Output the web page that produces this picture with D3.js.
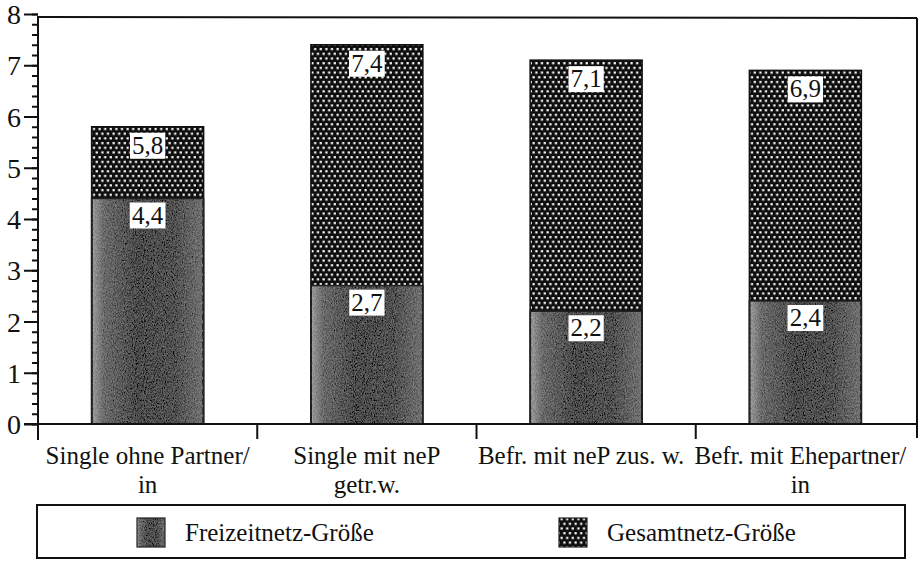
<!DOCTYPE html>
<html><head><meta charset="utf-8">
<script src="https://cdn.jsdelivr.net/npm/d3@7/dist/d3.min.js"></script>
<style>
html,body{margin:0;padding:0;background:#fff;}
svg{display:block;font-family:"Liberation Serif","Times New Roman",serif;}
svg text{font-family:"Liberation Serif","Times New Roman",serif;}
</style></head>
<body><svg id="chart" width="921" height="561"></svg>
<script>
const categories = [
  ["Single ohne Partner/", "in"],
  ["Single mit neP", "getr.w."],
  ["Befr. mit neP zus. w."],
  ["Befr. mit Ehepartner/", "in"]
];
const freizeit = [4.4, 2.7, 2.2, 2.4];
const gesamt = [5.8, 7.4, 7.1, 6.9];
const yTicks = [0, 1, 2, 3, 4, 5, 6, 7, 8];
const seriesNames = ["Freizeitnetz-Größe", "Gesamtnetz-Größe"];

(function () {
const svg = d3.select("#chart");
const pLeft = 38, pRight = 915, pBottom = 424, pTop = 14;
const y = d3.scaleLinear().domain([0, 8]).range([pBottom, pTop]);
const x = d3.scaleBand().domain(d3.range(categories.length)).range([pLeft, pRight]).paddingInner(0).paddingOuter(0);
const barW = 112;
const fmt = d3.formatLocale({decimal: ",", thousands: ".", grouping: [3], currency: ["", "€"]}).format(".1f");

const defs = svg.append("defs");
const dots = defs.append("pattern").attr("id", "dots").attr("patternUnits", "userSpaceOnUse")
  .attr("width", 5.6).attr("height", 9.4);
dots.append("rect").attr("width", 5.6).attr("height", 9.4).attr("fill", "#0e0e0e");
dots.append("rect").attr("x", 0.5).attr("y", 1.0).attr("width", 2.2).attr("height", 2.2).attr("fill", "#fff");
dots.append("rect").attr("x", 3.3).attr("y", 5.7).attr("width", 2.2).attr("height", 2.2).attr("fill", "#fff");

const g1 = defs.append("linearGradient").attr("id", "grayGrad").attr("x1", 0).attr("x2", 1).attr("y1", 0).attr("y2", 0);
[[0, "#9a9a9a"], [0.1, "#6a6a6a"], [0.4, "#4a4a4a"], [0.75, "#505050"], [1, "#707070"]]
  .forEach(([o, c]) => g1.append("stop").attr("offset", o).attr("stop-color", c));

const f = defs.append("filter").attr("id", "grain").attr("x", 0).attr("y", 0).attr("width", 1).attr("height", 1);
f.append("feTurbulence").attr("type", "fractalNoise").attr("baseFrequency", "1.1 0.6").attr("numOctaves", 2).attr("seed", 5).attr("result", "n");
f.append("feColorMatrix").attr("in", "n").attr("type", "matrix")
  .attr("values", "1 0 0 0 0  1 0 0 0 0  1 0 0 0 0  0 0 0 0 1").attr("result", "ng");
f.append("feComposite").attr("in", "SourceGraphic").attr("in2", "ng").attr("operator", "arithmetic")
  .attr("k1", 0).attr("k2", 1).attr("k3", 0.3).attr("k4", -0.15).attr("result", "mix");
f.append("feComposite").attr("in", "mix").attr("in2", "SourceGraphic").attr("operator", "in");

// frame (top and right)
svg.append("line").attr("x1", pLeft).attr("x2", pRight + 2).attr("y1", 17).attr("y2", 18)
  .attr("stroke", "#111").attr("stroke-width", 2);
svg.append("line").attr("x1", pRight + 2).attr("x2", pRight + 2).attr("y1", 18).attr("y2", 438)
  .attr("stroke", "#111").attr("stroke-width", 2);

// bars
const bars = svg.append("g");
categories.forEach((c, i) => {
  const cx = x(i) + x.bandwidth() / 2;
  bars.append("rect").attr("x", cx - barW / 2).attr("y", y(gesamt[i])).attr("width", barW)
    .attr("height", y(0) - y(gesamt[i])).attr("fill", "url(#dots)").attr("stroke", "#111").attr("stroke-width", 1.5);
  bars.append("rect").attr("x", cx - barW / 2 + 1).attr("y", y(freizeit[i])).attr("width", barW - 2)
    .attr("height", y(0) - y(freizeit[i])).attr("fill", "url(#grayGrad)").attr("filter", "url(#grain)");
  bars.append("rect").attr("x", cx - barW / 2).attr("y", y(freizeit[i])).attr("width", barW)
    .attr("height", y(0) - y(freizeit[i])).attr("fill", "none").attr("stroke", "#222").attr("stroke-width", 1.5);
});

// value labels
function label(cx, yy, v) {
  const g = svg.append("g");
  const t = g.append("text").attr("x", cx).attr("y", yy + 21).attr("text-anchor", "middle")
    .attr("font-size", 25).attr("fill", "#111").text(fmt(v));
  const bb = t.node().getBBox();
  g.insert("rect", "text").attr("x", cx - bb.width / 2 - 2).attr("y", yy).attr("width", bb.width + 4)
    .attr("height", 26).attr("fill", "#fff");
}
categories.forEach((c, i) => {
  const cx = x(i) + x.bandwidth() / 2;
  label(cx, y(gesamt[i]) + 6, gesamt[i]);
  label(cx, y(freizeit[i]) + 4, freizeit[i]);
});

// y axis
const yMinor = svg.append("g").attr("transform", `translate(${pLeft},0)`)
  .call(d3.axisLeft(y).tickValues(d3.range(0, 8.001, 0.2)).tickSize(6).tickFormat(""));
yMinor.select(".domain").remove();
yMinor.selectAll("line").attr("stroke", "#111").attr("stroke-width", 2);
const yAx = svg.append("g").attr("transform", `translate(${pLeft},0)`)
  .call(d3.axisLeft(y).tickValues(yTicks).tickSize(14).tickPadding(3).tickFormat(d3.format("d")));
yAx.attr("font-size", 28).attr("font-family", "Liberation Serif, serif");
yAx.select(".domain").remove();
yAx.selectAll("line").attr("stroke", "#111").attr("stroke-width", 2);
yAx.selectAll("text").style("font-size", "28px").attr("fill", "#111").attr("dy", "0.34em");
svg.append("line").attr("x1", pLeft).attr("x2", pLeft).attr("y1", 16).attr("y2", 440)
  .attr("stroke", "#111").attr("stroke-width", 2);

// x axis
svg.append("line").attr("x1", 24).attr("x2", pRight + 2).attr("y1", pBottom).attr("y2", pBottom)
  .attr("stroke", "#111").attr("stroke-width", 2);
const xTickPos = d3.range(1, categories.length).map(i => x(i));
svg.append("g").selectAll("line").data(xTickPos).join("line")
  .attr("x1", d => d).attr("x2", d => d).attr("y1", pBottom).attr("y2", 439)
  .attr("stroke", "#111").attr("stroke-width", 2);

const xl = svg.append("g");
categories.forEach((lines, i) => {
  const cx = x(i) + x.bandwidth() / 2 - (i >= 2 ? 5 : 0);
  lines.forEach((ln, j) => {
    xl.append("text").attr("x", cx).attr("y", 464 + j * 29).attr("text-anchor", "middle")
      .attr("font-size", 25).attr("fill", "#111").text(ln);
  });
});

// legend
svg.append("rect").attr("x", 37).attr("y", 505).attr("width", 868).attr("height", 53)
  .attr("fill", "none").attr("stroke", "#111").attr("stroke-width", 2);
const legItems = [
  {x: 137, fill: "url(#grayGrad)", filter: "url(#grain)", tx: 185},
  {x: 559, fill: "url(#dots)", filter: null, tx: 607}
];
legItems.forEach((it, i) => {
  const r = svg.append("rect").attr("x", it.x).attr("y", 518).attr("width", 28).attr("height", 29)
    .attr("fill", it.fill);
  if (it.filter) r.attr("filter", it.filter);
  svg.append("rect").attr("x", it.x).attr("y", 518).attr("width", 28).attr("height", 29)
    .attr("fill", "none").attr("stroke", "#222").attr("stroke-width", 1.2);
  svg.append("text").attr("x", it.tx).attr("y", 541).attr("font-size", 25).attr("fill", "#111")
    .text(seriesNames[i]);
});
})();
</script></body></html>
